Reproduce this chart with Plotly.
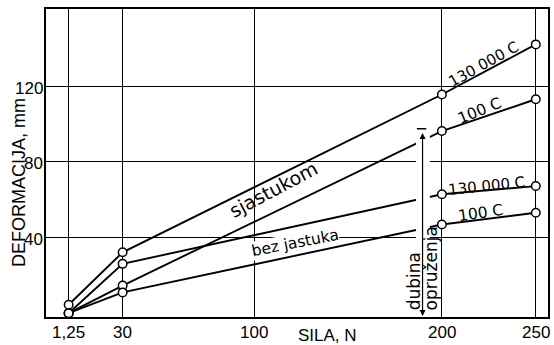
import plotly.graph_objects as go

# ---- data ----
force = [1.25, 30, 200, 250]                      # SILA, N
with_130000 = [4.5, 32.2, 115.6, 142.1]            # sjastukom, 130 000 C
with_100 = [0.0, 14.6, 96.3, 113.1]                # sjastukom, 100 C
without_130000 = [0.0, 26.1, 62.9, 67.2]           # bez jastuka, 130 000 C
without_100 = [0.0, 11.0, 46.9, 53.1]              # bez jastuka, 100 C

x_tick_vals = [1.25, 30, 100, 200, 250]
x_tick_text = ["1,25", "30", "100", "200", "250"]
y_tick_vals = [40, 80, 120]
y_tick_text = ["40", "80", "120"]

depth_x = 189.7        # "dubina opruženja" arrow position (N)
depth_top = 97.5       # top of the arrow (mm)

W, H = 554, 345
ML, MR, MT, MB = 46, 6, 9, 28
pw, ph = W - ML - MR, H - MT - MB

def px_x(p):   # pixel column -> paper x
    return (p - ML) / pw

def px_y(p):   # pixel row (from top) -> paper y
    return (H - p - MB) / ph

TICKFAM = "Liberation Sans, Arial, sans-serif"
TICKFONT = dict(family=TICKFAM, size=17, color="black")
ANNFONT = "DejaVu Sans, Liberation Sans, sans-serif"

fig = go.Figure()
for ys in [with_130000, with_100, without_130000, without_100]:
    fig.add_trace(go.Scatter(
        x=force, y=ys, mode="lines+markers",
        line=dict(color="black", width=1.9),
        marker=dict(symbol="circle", size=8.5, color="white",
                    line=dict(color="black", width=1.5)),
        hoverinfo="skip", showlegend=False, cliponaxis=False))

# white band where the curves are interrupted by the depth arrow
fig.add_shape(type="rect", xref="x", yref="y", x0=186.2, x1=193.6, y0=2, y1=95,
              fillcolor="white", line=dict(width=0), layer="above")
# T cap of the depth arrow
fig.add_shape(type="line", xref="x", yref="y", x0=depth_x - 3.0, x1=depth_x + 2.0,
              y0=depth_top, y1=depth_top, line=dict(color="black", width=1.5), layer="above")

# depth arrow (double-ended)
fig.add_annotation(x=depth_x, y=-1.5, ax=depth_x, ay=depth_top - 1.5, xref="x", yref="y",
                   axref="x", ayref="y", text="", showarrow=True, arrowhead=2,
                   startarrowhead=2, arrowside="end+start", arrowsize=1,
                   startarrowsize=1, arrowwidth=1.2, arrowcolor="black")

# rotated text labels
def label(text, x, y, angle, size, bg=None):
    fig.add_annotation(x=x, y=y, xref="x", yref="y", text=text, showarrow=False,
                       textangle=angle, xanchor="center", yanchor="middle",
                       font=dict(family=ANNFONT, size=size, color="black"),
                       bgcolor=bg, borderpad=0)

label("sjastukom", 110.6, 65.6, -28, 19)
label("bez jastuka", 121.8, 37.2, -11, 15.5, bg="white")
label("130 000 C", 222.4, 131.7, -29, 15)
label("100 C", 219.8, 106.8, -22, 15.5)
label("130 000 C", 224.0, 67.0, -6, 15)
label("100 C", 220.8, 53.0, -8, 15.5)

fig.add_annotation(x=185.6, y=0.4, xref="x", yref="y", text="dubina", showarrow=False,
                   textangle=-90, xanchor="center", yanchor="bottom",
                   font=dict(family=ANNFONT, size=17, color="black"))
fig.add_annotation(x=194.2, y=0.4, xref="x", yref="y", text="opruženja", showarrow=False,
                   textangle=-90, xanchor="center", yanchor="bottom",
                   font=dict(family=ANNFONT, size=17, color="black"))

# x tick labels
for v, t in zip(x_tick_vals, x_tick_text):
    fig.add_annotation(x=v, y=px_y(332), xref="x", yref="paper", text=t, showarrow=False,
                       xanchor="center", yanchor="middle", font=TICKFONT)
# y tick labels
for v, t in zip(y_tick_vals, y_tick_text):
    fig.add_annotation(x=px_x(45), y=v, xref="paper", yref="y", text=t, showarrow=False,
                       xanchor="right", yanchor="middle", yshift=-2, font=TICKFONT)

# axis titles
fig.add_annotation(x=px_x(327), y=px_y(335), xref="paper", yref="paper", text="SILA, N",
                   showarrow=False, xanchor="center", yanchor="middle",
                   font=dict(family=TICKFAM, size=17, color="black"))
fig.add_annotation(x=px_x(19), y=px_y(183), xref="paper", yref="paper",
                   text="DEFORMACIJA, mm", showarrow=False, textangle=-90,
                   xanchor="center", yanchor="middle",
                   font=dict(family=TICKFAM, size=18, color="black"))

fig.update_layout(
    width=W, height=H, template="none",
    margin=dict(l=ML, r=MR, t=MT, b=MB, pad=0, autoexpand=False),
    paper_bgcolor="white", plot_bgcolor="white",
    xaxis=dict(range=[-10.8, 256.5], tickmode="array", tickvals=x_tick_vals,
               showticklabels=False, showgrid=True, gridcolor="black", gridwidth=1.2,
               zeroline=False, showline=True, mirror=True, linecolor="black",
               linewidth=1.5, ticks="", automargin=False),
    yaxis=dict(range=[-2.0, 160.8], tickmode="array", tickvals=y_tick_vals,
               showticklabels=False, showgrid=True, gridcolor="black", gridwidth=1.2,
               zeroline=False, showline=True, mirror=True, linecolor="black",
               linewidth=1.5, ticks="", automargin=False),
)

fig.write_html("out.html", config={"displayModeBar": False},
               post_script="document.body.style.margin='0';document.body.style.overflow='hidden';")
